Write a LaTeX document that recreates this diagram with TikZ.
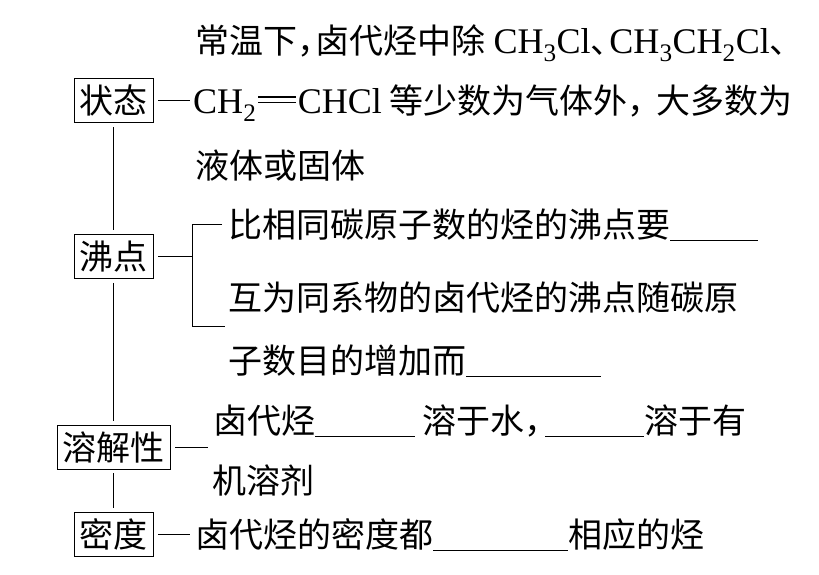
\documentclass[tikz,border=0pt]{standalone}
\usepackage{fontspec}
\setmainfont{Noto Sans CJK SC}
\newfontfamily\latin[Scale=1.06]{Liberation Serif}
\usetikzlibrary{positioning}
\newcommand{\chem}[1]{{\latin #1}}
\newcommand{\blank}[1]{\rule[-0.12em]{#1}{0.7pt}}
\newcommand{\hw}[1]{\makebox[0.55em][l]{#1}}
\newcommand{\dbond}{\kern0.05em\rule[0.27em]{1.05em}{0.04em}\kern-1.05em\rule[0.42em]{1.05em}{0.04em}\kern0.05em}

\begin{document}
\begin{tikzpicture}[x=1pt,y=-1pt,
    every node/.append style={font=\fontsize{34}{40}\selectfont},
    topic/.style={draw,line width=0.8pt,inner xsep=5.5pt,inner ysep=0pt,minimum height=44pt,text height=30pt,text depth=4pt},
    txt/.style={anchor=west,inner sep=0pt,text height=30pt,text depth=4pt},
    link/.style={line width=0.8pt}]
    \useasboundingbox (0,0) rectangle (819,574);

    % 左侧方框
    \node[topic] (zt) at (113.5,100) {状态};
    \node[topic] (fd) at (113.5,256.5) {沸点};
    \node[topic] (rj) at (113.5,447) {溶解性};
    \node[topic] (md) at (113.5,534) {密度};

    % 状态
    \node[txt] (zt1) at (195,40) {常温下\hw{，}卤代烃中除 \chem{CH\textsubscript{3}Cl}\hw{、}\chem{CH\textsubscript{3}CH\textsubscript{2}Cl}\hw{、}};
    \node[txt] (zt2) at (193,100) {\chem{CH\textsubscript{2}\dbond CHCl} 等少数为气体外\makebox[0.85em][l]{，}大多数为};
    \node[txt] (zt3) at (195,165) {液体或固体};

    % 沸点
    \node[txt] (fd1) at (228,224) {比相同碳原子数的烃的沸点要\blank{88pt}};
    \node[txt] (fd2) at (228,297) {互为同系物的卤代烃的沸点随碳原};
    \node[txt] (fd3) at (228,360) {子数目的增加而\blank{135pt}};

    % 溶解性
    \node[txt] (rj1) at (213,420) {卤代烃\blank{100pt} 溶于水\makebox[0.6em][l]{，}\blank{99pt}溶于有};
    \node[txt] (rj2) at (212,480) {机溶剂};

    % 密度
    \node[txt] (md1) at (195,534) {卤代烃的密度都\blank{135pt}相应的烃};

    % 竖线
    \draw[link,shorten <=5pt,shorten >=4pt] (zt.south) -- (fd.north);
    \draw[link,shorten <=4pt,shorten >=4pt] (fd.south) -- (rj.north);
    \draw[link,shorten <=4pt,shorten >=4pt] (rj.south) -- (md.north);

    % 横线
    \draw[link] ([xshift=5pt]zt.east) -- ([xshift=-3pt]zt2.west);
    \coordinate (fdj) at (192,256.5);
    \coordinate (fdb) at (225,326);
    \draw[link] ([xshift=5pt]fd.east) -- (fdj);
    \draw[link] ([xshift=-6pt]fd1.west) -| (fdj |- fdb) -- (fdb);
    \draw[link] ([xshift=5pt]rj.east) -- ([xshift=-5pt]rj1.west |- rj.east);
    \draw[link] ([xshift=5pt]md.east) -- ([xshift=-5pt]md1.west);
\end{tikzpicture}
\end{document}
